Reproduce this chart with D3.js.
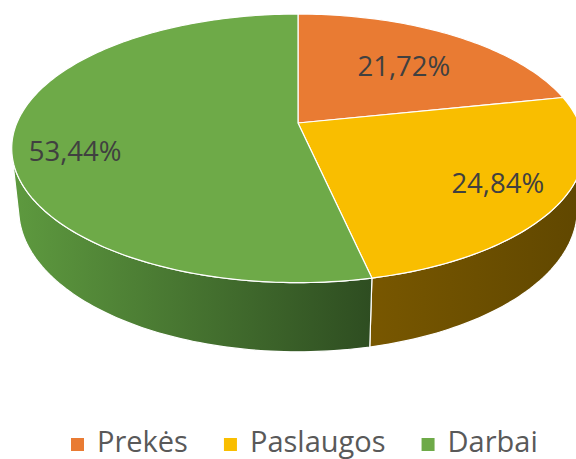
<!DOCTYPE html>
<html>
<head>
<meta charset="utf-8">
<script src="https://cdn.jsdelivr.net/npm/d3@7"></script>
<style>
  body { margin: 0; background: #fff; }
</style>
</head>
<body>
<script>
// chart data
const categories = ["Prekės", "Paslaugos", "Darbai"];
const values = [21.72, 24.84, 53.44];
const valueLabels = ["21,72%", "24,84%", "53,44%"];

// colours
const topColors = ["#E97B33", "#F9BE00", "#6EAA48"];
const sideColors = [["#B55A1E", "#8A4214"], ["#785700", "#604700"], ["#5E9A3F", "#2E4D21"]];

let canvasW = 576;
let canvasH = 459;

// 3d view, camera distance = 1
let cx = 298, cy = 123;
let focal = 1323;
let R = 0.2125;
let thick = 0.0525;
let sinA = 0.4607, cosA = Math.sqrt(1 - sinA * sinA);

// angle t clockwise from the far point, height y (0 = top face)
function project(t, r, y) {
  let X = r * Math.sin(t);
  let Z = -r * Math.cos(t);
  let depth = 1 - (y * sinA + Z * cosA);
  let u = y * cosA - Z * sinA;
  return [cx + focal * X / depth, cy - focal * u / depth];
}

function arcPoints(a0, a1, r, y) {
  let n = Math.max(2, Math.ceil(Math.abs(a1 - a0) / 0.02));
  let pts = [];
  for (let i = 0; i <= n; i++) {
    pts.push(project(a0 + (a1 - a0) * i / n, r, y));
  }
  return pts;
}

let svg = d3.select("body")
  .append("svg")
    .attr("width", canvasW)
    .attr("height", canvasH)
    .style("font-family", "'Open Sans', sans-serif");

let pie = d3.pie().sort(null).value(d => d)(values);

// side wall is only seen between the two silhouette lines
let phiS = Math.acos(R / cosA);
let visStart = Math.PI - phiS;
let visEnd = Math.PI + phiS;

let defs = svg.append("defs");
let line = d3.line();

pie.forEach((p, i) => {
  let s = Math.max(p.startAngle, visStart);
  let e = Math.min(p.endAngle, visEnd);
  if (e <= s) return;
  let top = arcPoints(s, e, R, 0);
  let bottom = arcPoints(e, s, R, -thick);
  let xs = top.concat(bottom).map(d => d[0]);

  let grad = defs.append("linearGradient")
    .attr("id", "side" + i)
    .attr("gradientUnits", "userSpaceOnUse")
    .attr("x1", d3.min(xs)).attr("x2", d3.max(xs))
    .attr("y1", 0).attr("y2", 0);
  grad.append("stop").attr("offset", 0).attr("stop-color", sideColors[i][0]);
  grad.append("stop").attr("offset", 1).attr("stop-color", sideColors[i][1]);

  svg.append("path")
    .attr("d", line(top.concat(bottom)) + "Z")
    .attr("fill", "url(#side" + i + ")")
    .attr("stroke", "#fff")
    .attr("stroke-width", 1.2)
    .attr("stroke-linejoin", "round");
});

// top faces
pie.forEach((p, i) => {
  let pts = [project(0, 0, 0)].concat(arcPoints(p.startAngle, p.endAngle, R, 0));
  svg.append("path")
    .attr("d", line(pts) + "Z")
    .attr("fill", topColors[i])
    .attr("stroke", "#fff")
    .attr("stroke-width", 1.2)
    .attr("stroke-linejoin", "round");
});

// data labels, excel nudges them a bit from the mid angle
let labelNudge = [[-14, 11], [8, 3], [-10, 17]];
pie.forEach((p, i) => {
  let mid = (p.startAngle + p.endAngle) / 2;
  let pos = project(mid, R * 0.75, 0);
  svg.append("text")
    .attr("x", pos[0] + labelNudge[i][0])
    .attr("y", pos[1] + labelNudge[i][1])
    .attr("dy", "0.36em")
    .attr("text-anchor", "middle")
    .attr("font-size", "27.5px")
    .attr("fill", "#404040")
    .text(valueLabels[i]);
});

// legend
let legend = svg.append("g").attr("transform", "translate(71,0)");
let lx = 0;
categories.forEach((c, i) => {
  legend.append("rect")
    .attr("x", lx).attr("y", 438)
    .attr("width", 13).attr("height", 13)
    .attr("fill", topColors[i]);
  let t = legend.append("text")
    .attr("x", lx + 26).attr("y", 452)
    .attr("font-size", "29px")
    .attr("fill", "#595959")
    .text(c);
  lx += 26 + t.node().getComputedTextLength() + 36;
});
</script>
</body>
</html>
